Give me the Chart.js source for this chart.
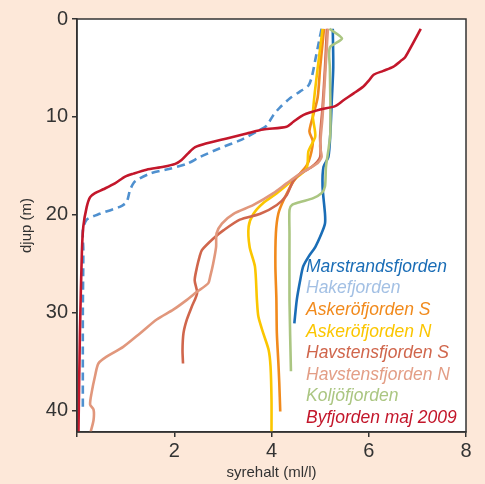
<!DOCTYPE html>
<html lang="sv">
<head>
<meta charset="UTF-8">
<title>Syrehalt</title>
<script src="https://cdn.jsdelivr.net/npm/chart.js"></script>
<style>
  html, body { margin: 0; padding: 0; background: #fde8d9; }
  canvas { display: block; }
</style>
</head>
<body>
<canvas id="profil" width="485" height="484"></canvas>
<script>
// djup (m) och syrehalt (ml/l) per fjord
var seriesNames = ['Marstrandsfjorden', 'Hakefjorden', 'Askeröfjorden S', 'Askeröfjorden N',
                   'Havstensfjorden S', 'Havstensfjorden N', 'Koljöfjorden', 'Byfjorden maj 2009'];

var marstrandDepth = [1, 4.9, 8.3, 11.7, 14.1, 15.1, 17.1, 19.9, 20.9, 21.9, 23.3, 24.3, 25.3, 26.7, 28.7, 31.1];
var marstrandOxygen = [5.26, 5.27, 5.24, 5.21, 5.17, 5.07, 5.05, 5.1, 5.1, 5.03, 4.9, 4.76, 4.65, 4.59, 4.52, 4.47];

var hakeDepth = [1, 2.2, 4.2, 5.9, 6.8, 7.4, 8.1, 9.0, 9.8, 10.9, 11.5, 12.4, 13.2, 14.1, 14.8, 15.3, 15.8, 16.6, 17.5, 18.7, 19.2, 19.9, 20.5, 21.6, 23.6, 30, 39.9];
var hakeOxygen = [5.03, 4.98, 4.9, 4.83, 4.76, 4.59, 4.38, 4.18, 4.04, 3.9, 3.7, 3.35, 2.94, 2.53, 2.26, 1.91, 1.5, 1.19, 1.09, 1.02, 0.88, 0.47, 0.2, 0.12, 0.13, 0.12, 0.12];

var askeroSDepth = [1, 5, 8, 10, 11.5, 12.5, 14, 15, 16.6, 18.5, 19.9, 21.9, 25.3, 28.5, 32.1, 35, 37.2, 40.1];
var askeroSOxygen = [5.08, 5.0, 4.95, 4.85, 4.78, 4.85, 4.8, 4.72, 4.45, 4.25, 4.14, 4.09, 4.08, 4.1, 4.11, 4.14, 4.16, 4.18];

var askeroNDepth = [1, 5, 8, 10, 12, 13.5, 15.3, 16.6, 17.8, 18.8, 19.9, 21.2, 23.3, 25.3, 28.7, 30.4, 32.1, 33.8, 35.5, 38.9, 42.2];
var askeroNOxygen = [5.05, 4.95, 4.88, 4.85, 4.9, 4.76, 4.72, 4.4, 4.11, 3.83, 3.63, 3.53, 3.55, 3.66, 3.7, 3.73, 3.83, 3.94, 3.98, 4.0, 4.0];

var havstenSDepth = [1, 5, 9, 12, 14.1, 15.1, 15.8, 16.5, 18.0, 19.0, 19.9, 20.5, 21.6, 22.4, 23.6, 24.3, 25.3, 26.7, 28.0, 29.4, 30.7, 32.1, 33.8, 35.2];
var havstenSOxygen = [5.14, 5.1, 5.05, 5.0, 5.0, 4.83, 4.59, 4.45, 4.31, 4.11, 3.77, 3.35, 3.01, 2.81, 2.57, 2.52, 2.47, 2.42, 2.47, 2.36, 2.26, 2.19, 2.17, 2.18];

var havstenNDepth = [1, 6, 10, 13, 14.1, 14.8, 15.8, 16.8, 17.8, 19.0, 19.9, 20.9, 21.9, 23.3, 25.0, 26.3, 27.0, 27.9, 28.7, 29.7, 30.7, 32.1, 33.5, 34.5, 35.2, 36.5, 38.2, 39.4, 39.9, 41.0, 42.2];
var havstenNOxygen = [5.16, 5.1, 5.05, 5.0, 5.03, 4.93, 4.59, 4.31, 4.04, 3.63, 3.22, 2.98, 2.87, 2.86, 2.8, 2.74, 2.7, 2.46, 2.26, 1.98, 1.64, 1.3, 0.95, 0.61, 0.44, 0.37, 0.3, 0.27, 0.34, 0.34, 0.28];

var koljoDepth = [1, 2.0, 2.9, 5, 8.3, 11.7, 13.4, 15.1, 17.1, 17.8, 18.3, 18.7, 19.0, 19.5, 21.9, 28.7, 36.0];
var koljoOxygen = [5.19, 5.45, 5.2, 5.2, 5.21, 5.21, 5.17, 5.12, 5.1, 5.03, 4.86, 4.59, 4.42, 4.37, 4.37, 4.37, 4.4];

var byDepth = [1, 3.9, 4.2, 4.9, 5.3, 5.7, 6.3, 6.9, 7.6, 8.3, 8.9, 9.25, 9.8, 10.5, 11.0, 11.3, 11.7, 12.2, 12.7, 13.1, 13.7, 14.4, 14.8, 15.1, 15.4, 15.8, 16.1, 16.8, 17.4, 17.8, 18.2, 19.2, 21.2, 23.9, 32.1, 42.2];
var byOxygen = [7.07, 6.75, 6.68, 6.5, 6.3, 6.1, 6.0, 5.89, 5.69, 5.48, 5.31, 5.0, 4.66, 4.45, 4.31, 3.83, 3.49, 3.08, 2.67, 2.43, 2.29, 2.15, 2.02, 1.78, 1.43, 1.16, 0.99, 0.78, 0.54, 0.37, 0.27, 0.2, 0.13, 0.1, 0.06, 0.03];

var lineColors = ['#1a6db6', '#4f90cf', '#f18a1c', '#fbc600', '#d0664c', '#e1977c', '#abc682', '#c3172b'];
var legendColors = ['#1a6db6', '#a3c0e4', '#f18a1c', '#fbc600', '#d0664c', '#e39e86', '#abc682', '#c3172b'];

var xTicks = [0, 2, 4, 6, 8];
var yTicks = [0, 10, 20, 30, 40];

function pairs(depth, oxygen) {
    return depth.map(function (d, i) { return { x: oxygen[i], y: d }; });
}

var profiles = [
    pairs(marstrandDepth, marstrandOxygen),
    pairs(hakeDepth, hakeOxygen),
    pairs(askeroSDepth, askeroSOxygen),
    pairs(askeroNDepth, askeroNOxygen),
    pairs(havstenSDepth, havstenSOxygen),
    pairs(havstenNDepth, havstenNOxygen),
    pairs(koljoDepth, koljoOxygen),
    pairs(byDepth, byOxygen)
];

var datasets = profiles.map(function (pts, i) {
    return {
        label: seriesNames[i],
        data: pts,
        borderColor: lineColors[i],
        backgroundColor: lineColors[i],
        borderWidth: 2.6,
        borderDash: i === 1 ? [8, 5] : [],
        pointRadius: 0,
        tension: 0.25,
        fill: false,
        order: i === 7 ? 0 : 8 - i
    };
});

// bakgrund, ram och textförklaring
var frame = {
    id: 'frame',
    beforeDraw: function (chart) {
        var ctx = chart.ctx, a = chart.chartArea;
        ctx.save();
        ctx.fillStyle = '#fde8d9';
        ctx.fillRect(0, 0, chart.width, chart.height);
        ctx.fillStyle = '#ffffff';
        ctx.fillRect(a.left, a.top, a.right - a.left, a.bottom - a.top);
        ctx.restore();
    },
    afterDraw: function (chart) {
        var ctx = chart.ctx, a = chart.chartArea;
        ctx.save();
        ctx.strokeStyle = '#333333';
        ctx.lineWidth = 1.5;
        ctx.strokeRect(a.left, a.top, a.right - a.left, a.bottom - a.top);
        ctx.font = 'italic 17.5px "Liberation Sans", Arial, sans-serif';
        ctx.textBaseline = 'middle';
        for (var i = 0; i < seriesNames.length; i++) {
            ctx.fillStyle = legendColors[i];
            ctx.fillText(seriesNames[i], 306, 267 + i * 21.6);
        }
        ctx.restore();
    }
};

new Chart(document.getElementById('profil').getContext('2d'), {
    type: 'line',
    data: { datasets: datasets },
    plugins: [frame],
    options: {
        responsive: false,
        animation: false,
        layout: { padding: { top: 19, right: 19 } },
        plugins: { legend: { display: false }, tooltip: { enabled: false } },
        scales: {
            x: {
                type: 'linear',
                position: 'bottom',
                min: 0,
                max: 8,
                afterBuildTicks: function (s) { s.ticks = xTicks.map(function (v) { return { value: v }; }); },
                afterFit: function (s) { s.height = 52; },
                ticks: {
                    color: '#333333',
                    font: { family: '"Liberation Sans", Arial, sans-serif', size: 20 },
                    padding: 2,
                    maxRotation: 0,
                    callback: function (v) { return v === 0 ? '' : v; }
                },
                grid: { drawOnChartArea: false, drawTicks: true, tickLength: 5, color: '#333333', lineWidth: 1.5 },
                border: { display: true, color: '#333333', width: 1.5 },
                title: {
                    display: true,
                    text: 'syrehalt (ml/l)',
                    color: '#333333',
                    font: { family: '"Liberation Sans", Arial, sans-serif', size: 15 },
                    padding: { top: 0, bottom: 2 }
                }
            },
            y: {
                type: 'linear',
                reverse: true,
                min: 0,
                max: 42.2,
                afterBuildTicks: function (s) { s.ticks = yTicks.map(function (v) { return { value: v }; }); },
                afterFit: function (s) { s.width = 77; },
                ticks: {
                    color: '#333333',
                    font: { family: '"Liberation Sans", Arial, sans-serif', size: 20 },
                    padding: 4
                },
                grid: { drawOnChartArea: false, drawTicks: true, tickLength: 5, color: '#333333', lineWidth: 1.5 },
                border: { display: true, color: '#333333', width: 1.5 },
                title: {
                    display: true,
                    text: 'djup (m)',
                    color: '#333333',
                    font: { family: '"Liberation Sans", Arial, sans-serif', size: 15 },
                    padding: { top: 18, bottom: 0 }
                }
            }
        }
    }
});
</script>
</body>
</html>
